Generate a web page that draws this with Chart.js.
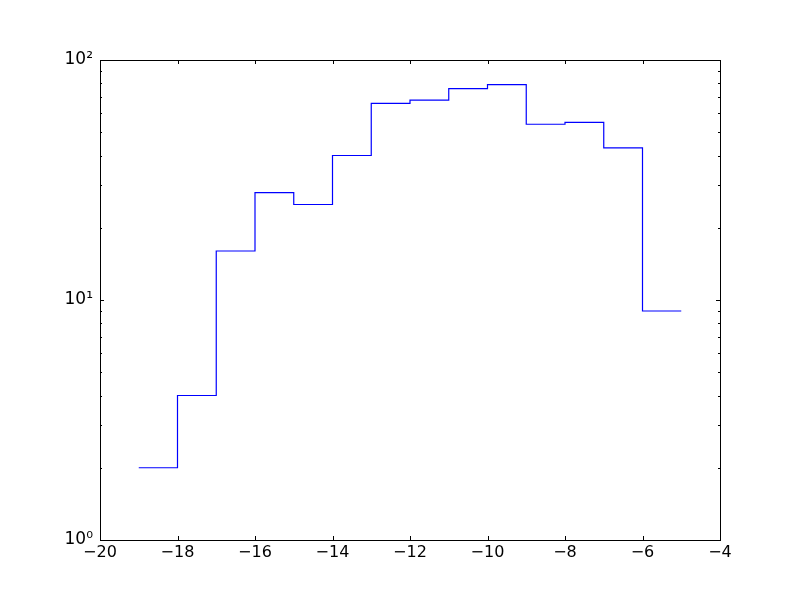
<!DOCTYPE html>
<html>
<head>
<meta charset="utf-8">
<script src="https://cdn.jsdelivr.net/npm/chart.js@4"></script>
<style>
  body { margin: 0; background: #fff; }
  canvas { display: block; }
</style>
</head>
<body>
<canvas id="myChart" width="800" height="600"></canvas>
<script>
// bin left edges and counts of the histogram (last edge closes the final bin)
var binEdges = [-19, -18, -17, -16, -15, -14, -13, -12, -11, -10, -9, -8, -7, -6, -5];
var counts = [2, 4, 16, 28, 25, 40, 66, 68, 76, 79, 54, 55, 43, 9];
var xTicks = [-20, -18, -16, -14, -12, -10, -8, -6, -4];
var yMajor = [1, 10, 100];
var superscripts = { "0": "\u2070", "1": "\u00b9", "2": "\u00b2" };

var points = [];
binEdges.forEach(function (edge, i) {
    var c = i < counts.length ? counts[i] : counts[counts.length - 1];
    points.push({ x: edge, y: c });
});

// minor ticks for the log axis: 2..9 in each decade
var yMinor = [];
for (var d = 1; d < 100; d *= 10) {
    for (var m = 2; m <= 9; m++) yMinor.push(m * d);
}

// draws matplotlib style frame and inward ticks
var frameTicks = {
    id: "frameTicks",
    afterDraw: function (chart) {
        var ctx = chart.ctx;
        var a = chart.chartArea;
        var xs = chart.scales.x;
        var ys = chart.scales.y;
        ctx.save();
        ctx.strokeStyle = "#000";
        ctx.lineWidth = 1;
        xTicks.forEach(function (v) {
            var px = Math.round(xs.getPixelForValue(v)) + 0.5;
            ctx.beginPath();
            ctx.moveTo(px, a.bottom); ctx.lineTo(px, a.bottom - 4);
            ctx.moveTo(px, a.top); ctx.lineTo(px, a.top + 4);
            ctx.stroke();
        });
        yMajor.forEach(function (v) {
            var py = Math.round(ys.getPixelForValue(v)) + 0.5;
            ctx.beginPath();
            ctx.moveTo(a.left, py); ctx.lineTo(a.left + 4, py);
            ctx.moveTo(a.right, py); ctx.lineTo(a.right - 4, py);
            ctx.stroke();
        });
        yMinor.forEach(function (v) {
            var py = Math.round(ys.getPixelForValue(v)) + 0.5;
            ctx.beginPath();
            ctx.moveTo(a.left, py); ctx.lineTo(a.left + 2, py);
            ctx.moveTo(a.right, py); ctx.lineTo(a.right - 2, py);
            ctx.stroke();
        });
        ctx.strokeRect(Math.round(a.left) + 0.5, Math.round(a.top) + 0.5,
            Math.round(a.right - a.left), Math.round(a.bottom - a.top));
        ctx.restore();
    }
};

var ctx = document.getElementById("myChart").getContext("2d");
var chart = new Chart(ctx, {
    type: "line",
    data: {
        datasets: [
            {
                data: points,
                borderColor: "#0000ff",
                borderWidth: 1.2,
                pointRadius: 0,
                stepped: "before",
                fill: false,
            },
        ],
    },
    options: {
        responsive: false,
        animation: false,
        layout: { padding: { top: 60, right: 80, left: 0, bottom: 0 } },
        plugins: { legend: { display: false }, tooltip: { enabled: false } },
        scales: {
            x: {
                type: "linear",
                min: -20,
                max: -4,
                afterFit: function (scale) { scale.height = 60; },
                afterBuildTicks: function (scale) {
                    scale.ticks = xTicks.map(function (v) { return { value: v }; });
                },
                grid: { display: false, drawTicks: false },
                border: { display: false },
                ticks: {
                    padding: 3,
                    color: "#000",
                    font: { family: "DejaVu Sans", size: 16 },
                    callback: function (v) { return String(v).replace("-", "\u2212"); },
                },
            },
            y: {
                type: "logarithmic",
                min: 1,
                max: 100,
                afterFit: function (scale) { scale.width = 100; },
                afterBuildTicks: function (scale) {
                    scale.ticks = yMajor.map(function (v) { return { value: v }; });
                },
                grid: { display: false, drawTicks: false },
                border: { display: false },
                ticks: {
                    padding: 7,
                    color: "#000",
                    autoSkip: false,
                    font: { family: "DejaVu Sans", size: 17 },
                    callback: function (v) {
                        var e = Math.round(Math.log10(v));
                        return "10" + superscripts[String(e)];
                    },
                },
            },
        },
    },
    plugins: [frameTicks],
});
</script>
</body>
</html>
